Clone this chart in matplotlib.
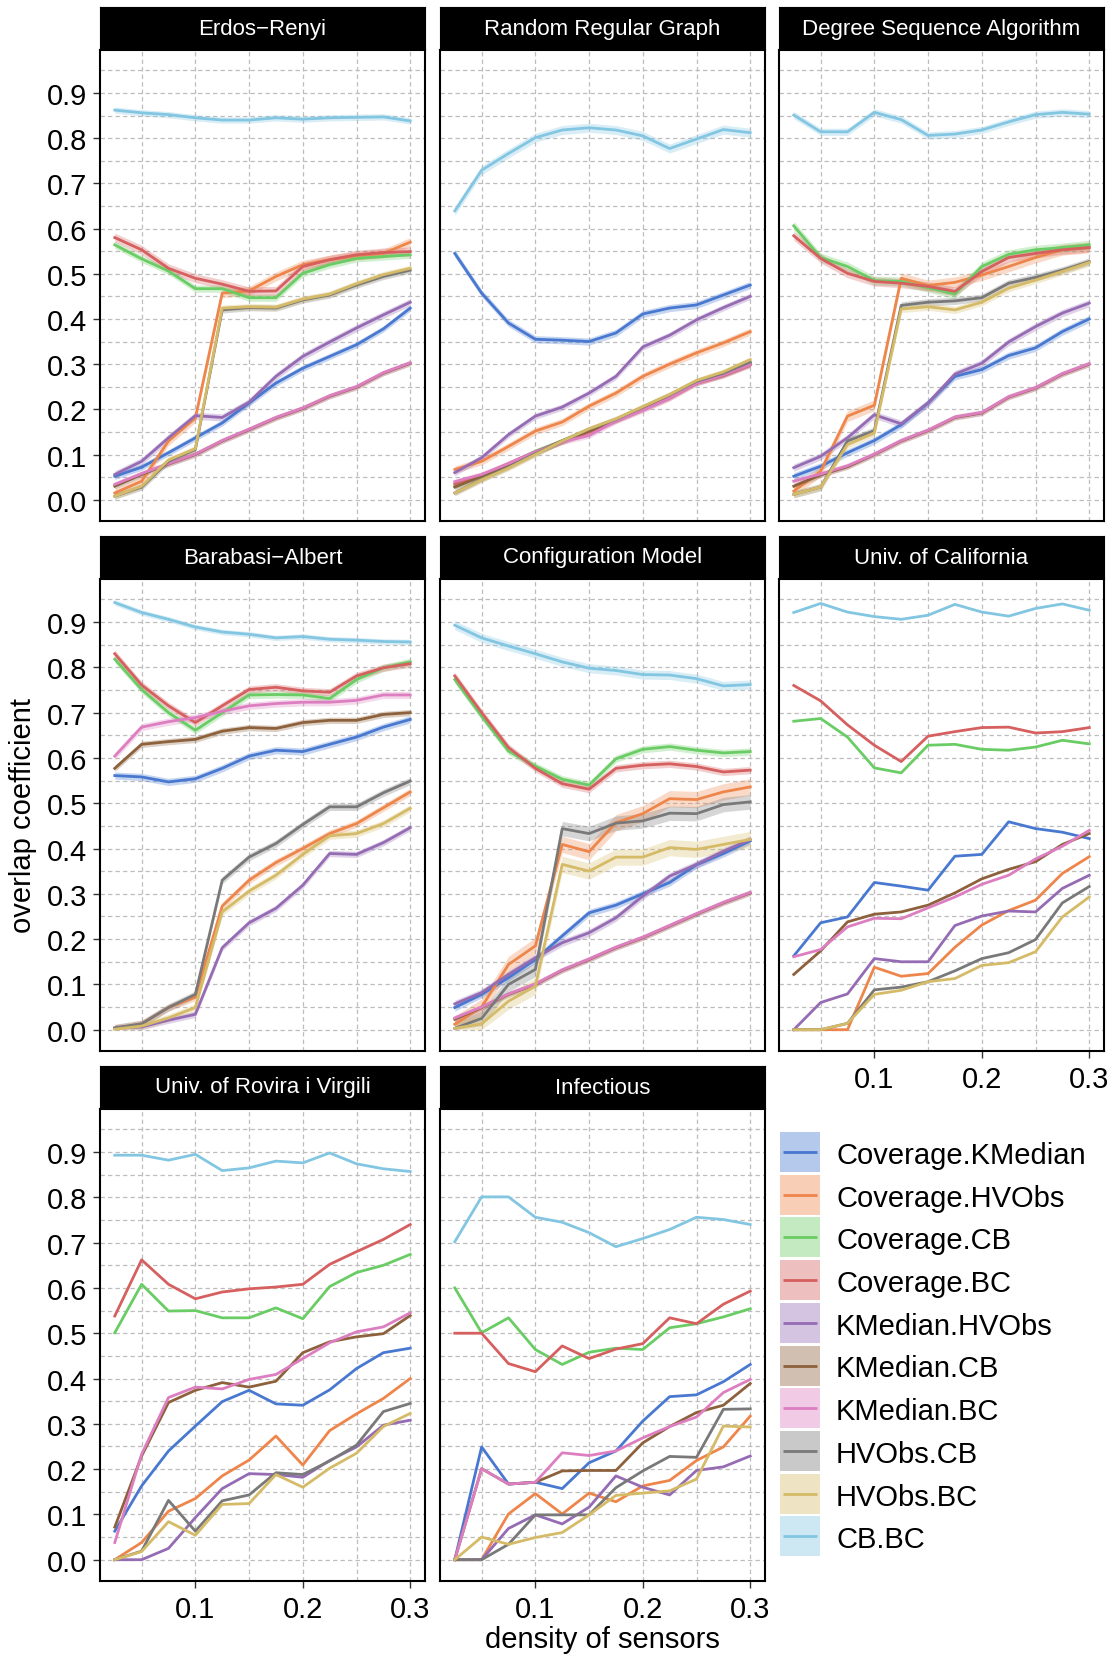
#!/usr/bin/env python3
"""Overlap coefficient between sensor placement strategies, faceted by network."""

import matplotlib

matplotlib.use("Agg")

import matplotlib.pyplot as plt
from matplotlib.patches import Rectangle
from matplotlib.ticker import MultipleLocator

plt.rcParams["font.family"] = ["Liberation Sans", "DejaVu Sans"]

W_PX, H_PX = 1118, 1658

DENSITY = [0.025, 0.05, 0.075, 0.1, 0.125, 0.15, 0.175, 0.2, 0.225, 0.25, 0.275, 0.3]

SERIES = [
    "Coverage.KMedian", "Coverage.HVObs", "Coverage.CB", "Coverage.BC", "KMedian.HVObs",
    "KMedian.CB", "KMedian.BC", "HVObs.CB", "HVObs.BC", "CB.BC",
]
# seaborn "muted" palette
COLORS = [
    "#4878D0", "#EE854A", "#6ACC64", "#D65F5F", "#956CB4",
    "#8C613C", "#DC7EC0", "#797979", "#D5BB67", "#82C6E2",
]

ERDOS_RENYI = {
    "Coverage.KMedian": [0.052, 0.072, 0.104, 0.137, 0.170, 0.214, 0.258, 0.291, 0.317, 0.343, 0.378, 0.424],
    "Coverage.HVObs": [0.015, 0.041, 0.130, 0.181, 0.457, 0.462, 0.494, 0.520, 0.531, 0.540, 0.545, 0.570],
    "Coverage.CB": [0.564, 0.533, 0.506, 0.467, 0.467, 0.447, 0.447, 0.501, 0.520, 0.534, 0.538, 0.542],
    "Coverage.BC": [0.580, 0.553, 0.512, 0.490, 0.477, 0.461, 0.462, 0.516, 0.531, 0.542, 0.547, 0.549],
    "KMedian.HVObs": [0.056, 0.085, 0.137, 0.186, 0.182, 0.216, 0.273, 0.317, 0.349, 0.380, 0.409, 0.437],
    "KMedian.CB": [0.030, 0.056, 0.079, 0.100, 0.130, 0.155, 0.181, 0.202, 0.229, 0.249, 0.280, 0.302],
    "KMedian.BC": [0.034, 0.058, 0.080, 0.101, 0.131, 0.156, 0.182, 0.203, 0.230, 0.250, 0.281, 0.303],
    "HVObs.CB": [0.008, 0.028, 0.085, 0.111, 0.420, 0.425, 0.424, 0.442, 0.453, 0.475, 0.494, 0.508],
    "HVObs.BC": [0.008, 0.030, 0.088, 0.113, 0.424, 0.427, 0.426, 0.444, 0.455, 0.478, 0.498, 0.512],
    "CB.BC": [0.862, 0.856, 0.852, 0.845, 0.840, 0.840, 0.845, 0.842, 0.845, 0.846, 0.847, 0.838],
}
RANDOM_REGULAR = {
    "Coverage.KMedian": [0.545, 0.457, 0.391, 0.355, 0.353, 0.350, 0.369, 0.411, 0.424, 0.431, 0.453, 0.475],
    "Coverage.HVObs": [0.067, 0.085, 0.118, 0.152, 0.172, 0.207, 0.236, 0.273, 0.300, 0.325, 0.347, 0.372],
    "Coverage.CB": [0.030, 0.052, 0.078, 0.107, 0.130, 0.155, 0.177, 0.203, 0.229, 0.262, 0.277, 0.302],
    "Coverage.BC": [0.035, 0.054, 0.080, 0.106, 0.128, 0.150, 0.175, 0.200, 0.225, 0.258, 0.275, 0.298],
    "KMedian.HVObs": [0.060, 0.093, 0.144, 0.185, 0.205, 0.236, 0.273, 0.338, 0.364, 0.398, 0.425, 0.450],
    "KMedian.CB": [0.028, 0.052, 0.077, 0.105, 0.130, 0.152, 0.177, 0.202, 0.228, 0.260, 0.277, 0.300],
    "KMedian.BC": [0.040, 0.056, 0.080, 0.106, 0.128, 0.142, 0.174, 0.198, 0.225, 0.258, 0.276, 0.299],
    "HVObs.CB": [0.015, 0.045, 0.072, 0.102, 0.130, 0.156, 0.178, 0.205, 0.232, 0.262, 0.280, 0.305],
    "HVObs.BC": [0.015, 0.044, 0.070, 0.100, 0.130, 0.157, 0.179, 0.206, 0.233, 0.264, 0.283, 0.310],
    "CB.BC": [0.639, 0.729, 0.766, 0.801, 0.818, 0.823, 0.818, 0.805, 0.777, 0.798, 0.819, 0.812],
}
DEGREE_SEQUENCE = {
    "Coverage.KMedian": [0.052, 0.074, 0.104, 0.131, 0.166, 0.214, 0.273, 0.288, 0.319, 0.336, 0.372, 0.400],
    "Coverage.HVObs": [0.019, 0.063, 0.185, 0.209, 0.490, 0.474, 0.481, 0.497, 0.516, 0.536, 0.553, 0.558],
    "Coverage.CB": [0.606, 0.536, 0.516, 0.485, 0.483, 0.469, 0.455, 0.516, 0.543, 0.553, 0.558, 0.564],
    "Coverage.BC": [0.584, 0.534, 0.501, 0.483, 0.479, 0.472, 0.461, 0.505, 0.536, 0.545, 0.553, 0.558],
    "KMedian.HVObs": [0.071, 0.096, 0.137, 0.188, 0.168, 0.214, 0.278, 0.302, 0.349, 0.383, 0.413, 0.435],
    "KMedian.CB": [0.030, 0.055, 0.073, 0.100, 0.130, 0.153, 0.182, 0.192, 0.227, 0.247, 0.278, 0.300],
    "KMedian.BC": [0.041, 0.057, 0.075, 0.101, 0.131, 0.154, 0.183, 0.193, 0.228, 0.248, 0.279, 0.301],
    "HVObs.CB": [0.012, 0.028, 0.130, 0.153, 0.430, 0.437, 0.440, 0.447, 0.479, 0.492, 0.508, 0.527],
    "HVObs.BC": [0.012, 0.028, 0.122, 0.148, 0.422, 0.427, 0.420, 0.437, 0.468, 0.486, 0.505, 0.525],
    "CB.BC": [0.851, 0.814, 0.814, 0.857, 0.841, 0.806, 0.809, 0.818, 0.836, 0.852, 0.857, 0.853],
}
BARABASI_ALBERT = {
    "Coverage.KMedian": [0.561, 0.558, 0.547, 0.554, 0.577, 0.604, 0.617, 0.614, 0.630, 0.646, 0.668, 0.685],
    "Coverage.HVObs": [0.003, 0.013, 0.049, 0.072, 0.273, 0.330, 0.369, 0.400, 0.433, 0.455, 0.490, 0.525],
    "Coverage.CB": [0.818, 0.751, 0.700, 0.661, 0.700, 0.739, 0.740, 0.739, 0.731, 0.773, 0.799, 0.812],
    "Coverage.BC": [0.830, 0.761, 0.715, 0.678, 0.715, 0.751, 0.756, 0.748, 0.745, 0.781, 0.799, 0.808],
    "KMedian.HVObs": [0.004, 0.006, 0.021, 0.034, 0.181, 0.236, 0.268, 0.319, 0.389, 0.387, 0.413, 0.446],
    "KMedian.CB": [0.577, 0.630, 0.636, 0.641, 0.659, 0.667, 0.665, 0.678, 0.683, 0.683, 0.696, 0.700],
    "KMedian.BC": [0.604, 0.668, 0.680, 0.689, 0.703, 0.715, 0.720, 0.723, 0.723, 0.727, 0.739, 0.739],
    "HVObs.CB": [0.004, 0.013, 0.049, 0.078, 0.330, 0.381, 0.411, 0.453, 0.492, 0.492, 0.523, 0.549],
    "HVObs.BC": [0.001, 0.008, 0.026, 0.049, 0.260, 0.306, 0.341, 0.387, 0.428, 0.433, 0.455, 0.489],
    "CB.BC": [0.943, 0.921, 0.906, 0.889, 0.878, 0.873, 0.865, 0.868, 0.862, 0.860, 0.857, 0.856],
}
CONFIGURATION = {
    "Coverage.KMedian": [0.049, 0.078, 0.115, 0.155, 0.207, 0.258, 0.275, 0.300, 0.325, 0.364, 0.389, 0.417],
    "Coverage.HVObs": [0.012, 0.050, 0.144, 0.185, 0.409, 0.393, 0.457, 0.477, 0.510, 0.508, 0.525, 0.536],
    "Coverage.CB": [0.773, 0.692, 0.615, 0.582, 0.553, 0.540, 0.598, 0.619, 0.625, 0.617, 0.611, 0.614],
    "Coverage.BC": [0.781, 0.700, 0.623, 0.577, 0.543, 0.531, 0.577, 0.584, 0.587, 0.581, 0.569, 0.573],
    "KMedian.HVObs": [0.057, 0.082, 0.122, 0.159, 0.192, 0.214, 0.247, 0.295, 0.339, 0.365, 0.394, 0.420],
    "KMedian.CB": [0.023, 0.049, 0.078, 0.100, 0.131, 0.155, 0.181, 0.203, 0.229, 0.255, 0.280, 0.302],
    "KMedian.BC": [0.026, 0.050, 0.079, 0.101, 0.132, 0.156, 0.182, 0.204, 0.230, 0.256, 0.281, 0.303],
    "HVObs.CB": [0.003, 0.025, 0.100, 0.133, 0.444, 0.433, 0.456, 0.461, 0.478, 0.477, 0.497, 0.503],
    "HVObs.BC": [0.003, 0.013, 0.063, 0.096, 0.365, 0.350, 0.381, 0.381, 0.402, 0.398, 0.409, 0.420],
    "CB.BC": [0.893, 0.865, 0.847, 0.830, 0.812, 0.798, 0.793, 0.784, 0.783, 0.775, 0.759, 0.762],
}
UNIV_CALIFORNIA = {
    "Coverage.KMedian": [0.163, 0.236, 0.249, 0.325, 0.317, 0.308, 0.383, 0.387, 0.459, 0.444, 0.436, 0.422],
    "Coverage.HVObs": [0.0, 0.0, 0.0, 0.138, 0.118, 0.124, 0.182, 0.231, 0.263, 0.286, 0.345, 0.382],
    "Coverage.CB": [0.681, 0.687, 0.646, 0.578, 0.567, 0.628, 0.630, 0.619, 0.617, 0.624, 0.639, 0.631],
    "Coverage.BC": [0.760, 0.726, 0.673, 0.628, 0.592, 0.648, 0.658, 0.667, 0.668, 0.655, 0.658, 0.667],
    "KMedian.HVObs": [0.0, 0.060, 0.079, 0.157, 0.150, 0.150, 0.230, 0.251, 0.262, 0.260, 0.312, 0.341],
    "KMedian.CB": [0.122, 0.174, 0.238, 0.255, 0.260, 0.275, 0.302, 0.333, 0.354, 0.371, 0.409, 0.433],
    "KMedian.BC": [0.161, 0.177, 0.227, 0.246, 0.245, 0.269, 0.293, 0.321, 0.341, 0.377, 0.405, 0.440],
    "HVObs.CB": [0.0, 0.0, 0.014, 0.088, 0.094, 0.106, 0.130, 0.157, 0.170, 0.199, 0.280, 0.316],
    "HVObs.BC": [0.0, 0.0, 0.014, 0.078, 0.087, 0.106, 0.113, 0.142, 0.148, 0.172, 0.249, 0.293],
    "CB.BC": [0.921, 0.941, 0.922, 0.912, 0.906, 0.915, 0.939, 0.922, 0.913, 0.930, 0.940, 0.926],
}
UNIV_ROVIRA = {
    "Coverage.KMedian": [0.063, 0.163, 0.240, 0.295, 0.349, 0.374, 0.344, 0.341, 0.375, 0.422, 0.457, 0.467],
    "Coverage.HVObs": [0.0, 0.038, 0.107, 0.135, 0.185, 0.220, 0.273, 0.209, 0.285, 0.322, 0.356, 0.400],
    "Coverage.CB": [0.501, 0.608, 0.549, 0.550, 0.534, 0.534, 0.556, 0.532, 0.603, 0.634, 0.650, 0.674],
    "Coverage.BC": [0.538, 0.662, 0.608, 0.576, 0.591, 0.598, 0.602, 0.608, 0.652, 0.680, 0.707, 0.740],
    "KMedian.HVObs": [0.0, 0.0, 0.025, 0.093, 0.157, 0.190, 0.188, 0.182, 0.219, 0.249, 0.297, 0.308],
    "KMedian.CB": [0.072, 0.229, 0.347, 0.374, 0.391, 0.381, 0.394, 0.457, 0.481, 0.492, 0.499, 0.539],
    "KMedian.BC": [0.038, 0.233, 0.358, 0.381, 0.377, 0.398, 0.409, 0.444, 0.479, 0.503, 0.514, 0.545],
    "HVObs.CB": [0.0, 0.019, 0.131, 0.063, 0.130, 0.143, 0.192, 0.188, 0.218, 0.253, 0.327, 0.345],
    "HVObs.BC": [0.0, 0.018, 0.084, 0.054, 0.122, 0.124, 0.188, 0.160, 0.202, 0.235, 0.294, 0.323],
    "CB.BC": [0.893, 0.893, 0.882, 0.895, 0.859, 0.865, 0.880, 0.876, 0.898, 0.874, 0.863, 0.857],
}
INFECTIOUS = {
    "Coverage.KMedian": [0.0, 0.249, 0.167, 0.171, 0.157, 0.214, 0.240, 0.306, 0.360, 0.364, 0.393, 0.431],
    "Coverage.HVObs": [0.0, 0.0, 0.101, 0.146, 0.101, 0.147, 0.128, 0.163, 0.175, 0.219, 0.249, 0.317],
    "Coverage.CB": [0.600, 0.501, 0.534, 0.464, 0.431, 0.458, 0.467, 0.464, 0.512, 0.521, 0.536, 0.554],
    "Coverage.BC": [0.500, 0.500, 0.433, 0.415, 0.472, 0.444, 0.465, 0.477, 0.534, 0.521, 0.564, 0.593],
    "KMedian.HVObs": [0.0, 0.0, 0.069, 0.099, 0.079, 0.116, 0.185, 0.160, 0.143, 0.197, 0.205, 0.229],
    "KMedian.CB": [0.0, 0.201, 0.167, 0.171, 0.196, 0.197, 0.197, 0.258, 0.294, 0.325, 0.341, 0.389],
    "KMedian.BC": [0.0, 0.201, 0.167, 0.171, 0.236, 0.230, 0.240, 0.269, 0.294, 0.315, 0.369, 0.398],
    "HVObs.CB": [0.0, 0.0, 0.034, 0.099, 0.099, 0.099, 0.159, 0.196, 0.228, 0.226, 0.332, 0.333],
    "HVObs.BC": [0.0, 0.050, 0.034, 0.049, 0.060, 0.099, 0.142, 0.147, 0.152, 0.178, 0.295, 0.293],
    "CB.BC": [0.702, 0.801, 0.801, 0.756, 0.745, 0.722, 0.691, 0.709, 0.729, 0.756, 0.751, 0.740],
}

# half-width of the confidence ribbon per series (SERIES order); None = no ribbon
BAND_ER = [0.007, 0.010, 0.008, 0.010, 0.008, 0.006, 0.006, 0.007, 0.007, 0.007]
BAND_RRG = [0.008, 0.008, 0.006, 0.006, 0.007, 0.006, 0.006, 0.006, 0.006, 0.010]
BAND_DSA = [0.008, 0.012, 0.010, 0.010, 0.008, 0.006, 0.006, 0.008, 0.008, 0.008]
BAND_BA = [0.008, 0.008, 0.008, 0.008, 0.007, 0.007, 0.008, 0.008, 0.008, 0.006]
BAND_CM = [0.008, 0.018, 0.008, 0.008, 0.008, 0.006, 0.006, 0.016, 0.018, 0.010]

PANELS = [
    ("Erdos\u2212Renyi", ERDOS_RENYI, BAND_ER),
    ("Random Regular Graph", RANDOM_REGULAR, BAND_RRG),
    ("Degree Sequence Algorithm", DEGREE_SEQUENCE, BAND_DSA),
    ("Barabasi\u2212Albert", BARABASI_ALBERT, BAND_BA),
    ("Configuration Model", CONFIGURATION, BAND_CM),
    ("Univ. of California", UNIV_CALIFORNIA, None),
    ("Univ. of Rovira i Virgili", UNIV_ROVIRA, None),
    ("Infectious", INFECTIOUS, None),
]

COLS_PX = [(100, 425), (440, 765), (779, 1104)]
ROWS_PX = [(8, 51, 522), (537, 580, 1052), (1067, 1110, 1582)]
BOTTOM_PANELS = {5, 6, 7}
FS = 21
GRID = "#bdbdbd"

# legend box in figure pixels
LEG_LEFT, LEG_TOP, LEG_RIGHT, LEG_BOTTOM = 780, 1133, 1110, 1560
LEG_KEY, LEG_STEP, LEG_TEXT_X = 40, 42.7, 56


def px_axes(fig, left, top, right, bottom):
    return fig.add_axes([left / W_PX, 1 - bottom / H_PX, (right - left) / W_PX, (bottom - top) / H_PX])


def draw_strip(fig, left, top, right, bottom, title):
    sax = px_axes(fig, left, top, right, bottom)
    sax.set_facecolor("black")
    sax.set_xticks([])
    sax.set_yticks([])
    for sp in sax.spines.values():
        sp.set_color("black")
    sax.text(0.5, 0.5, title, transform=sax.transAxes, ha="center", va="center",
             color="white", fontsize=16)


def draw_panel(ax, data, band, idx):
    for k, name in enumerate(SERIES):
        y = data[name]
        if band is not None:
            lo = [max(v - band[k], 0.0) for v in y]
            hi = [v + band[k] for v in y]
            ax.fill_between(DENSITY, lo, hi, color=COLORS[k], alpha=0.3, lw=0, zorder=2)
        ax.plot(DENSITY, y, color=COLORS[k], lw=2.0, zorder=3)

    ax.set_xlim(0.01125, 0.31375)
    ax.set_ylim(-0.047, 0.995)
    ax.xaxis.set_major_locator(MultipleLocator(0.1))
    ax.xaxis.set_minor_locator(MultipleLocator(0.05))
    ax.yaxis.set_major_locator(MultipleLocator(0.1))
    ax.yaxis.set_minor_locator(MultipleLocator(0.05))
    ax.grid(True, which="both", color=GRID, lw=0.9, ls=(0, (3.5, 2.5)), zorder=0)
    ax.set_axisbelow(True)
    for sp in ax.spines.values():
        sp.set_linewidth(1.5)
        sp.set_color("black")

    ax.tick_params(which="minor", length=0)
    ax.tick_params(axis="both", which="major", labelsize=FS, color="#333333", width=1.0)
    col = idx % 3
    if col == 0:
        ax.tick_params(axis="y", length=5, pad=4)
        ax.set_yticklabels([f"{v:.1f}" for v in ax.get_yticks()])
    else:
        ax.tick_params(axis="y", length=0, labelleft=False)
    if idx in BOTTOM_PANELS:
        ax.tick_params(axis="x", length=5, pad=5)
        ax.set_xticklabels([f"{v:.1f}" for v in ax.get_xticks()])
    else:
        ax.tick_params(axis="x", length=0, labelbottom=False)


def draw_legend(fig):
    lax = px_axes(fig, LEG_LEFT, LEG_TOP, LEG_RIGHT, LEG_BOTTOM)
    lax.set_xlim(0, LEG_RIGHT - LEG_LEFT)
    lax.set_ylim(LEG_BOTTOM - LEG_TOP, 0)
    lax.axis("off")
    for i, (name, col) in enumerate(zip(SERIES, COLORS)):
        y0 = i * LEG_STEP
        lax.add_patch(Rectangle((0, y0), LEG_KEY, LEG_KEY, facecolor=col, alpha=0.4, edgecolor="none"))
        lax.plot([3, LEG_KEY - 3], [y0 + LEG_KEY / 2] * 2, color=col, lw=2.0, solid_capstyle="butt")
        lax.text(LEG_TEXT_X, y0 + LEG_KEY / 2, name, ha="left", va="center_baseline", fontsize=FS)


def main():
    fig = plt.figure(figsize=(W_PX / 100, H_PX / 100), dpi=100)

    for idx, (title, data, band) in enumerate(PANELS):
        r, c = divmod(idx, 3)
        left, right = COLS_PX[c]
        s_top, a_top, a_bot = ROWS_PX[r]
        draw_strip(fig, left, s_top, right, a_top - 1, title)
        ax = px_axes(fig, left, a_top, right, a_bot)
        draw_panel(ax, data, band, idx)

    fig.text(23 / W_PX, 1 - 816 / H_PX, "overlap coefficient", rotation=90,
             ha="center", va="center", fontsize=FS)
    fig.text(602 / W_PX, 1 - 1640 / H_PX, "density of sensors",
             ha="center", va="center", fontsize=FS)

    draw_legend(fig)

    fig.savefig("out.png", dpi=100)


if __name__ == "__main__":
    main()
